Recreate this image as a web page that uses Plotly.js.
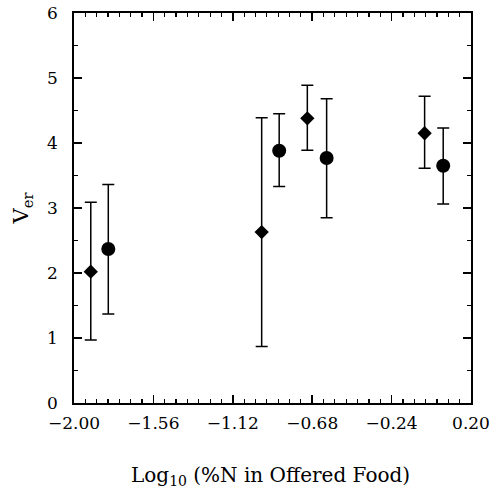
<!DOCTYPE html>
<html>
<head>
<meta charset="utf-8">
<script src="https://cdn.plot.ly/plotly-3.0.1.min.js"></script>
<style>html,body{margin:0;padding:0;background:#fff;}</style>
</head>
<body>
<div id="chart" style="width:490px;height:488px;"></div>
<script>
// Diamonds series
const diamondX = [-1.907, -0.96, -0.707, -0.057];
const diamondY = [2.02, 2.63, 4.38, 4.15];
const diamondErrPlus = [1.07, 1.76, 0.51, 0.57];
const diamondErrMinus = [1.05, 1.76, 0.49, 0.54];
// Circles series
const circleX = [-1.81, -0.863, -0.60, 0.046];
const circleY = [2.37, 3.88, 3.77, 3.65];
const circleErrPlus = [0.99, 0.57, 0.91, 0.58];
const circleErrMinus = [1.00, 0.55, 0.92, 0.59];
// Tick labels
const xTickVals = [-2.00, -1.56, -1.12, -0.68, -0.24, 0.20];
const xTickText = ['\u22122.00', '\u22121.56', '\u22121.12', '\u22120.68', '\u22120.24', '0.20'];
const yTickVals = [0, 1, 2, 3, 4, 5, 6];
const xTitle = 'Log<sub>10</sub> (%N in Offered Food)';
const yTitle = 'V<sub>er</sub>';

const font = {family: 'DejaVu Serif', size: 17, color: '#000'};

const errStyle = (plus, minus) => ({
  type: 'data', symmetric: false, array: plus, arrayminus: minus,
  color: '#000', thickness: 1.5, width: 6
});

const traces = [
  {
    x: diamondX, y: diamondY, type: 'scatter', mode: 'markers',
    marker: {symbol: 'diamond', size: 11, color: '#000'},
    error_y: errStyle(diamondErrPlus, diamondErrMinus),
    showlegend: false
  },
  {
    x: circleX, y: circleY, type: 'scatter', mode: 'markers',
    marker: {symbol: 'circle', size: 14, color: '#000'},
    error_y: errStyle(circleErrPlus, circleErrMinus),
    showlegend: false
  }
];

const layout = {
  width: 490, height: 488,
  margin: {l: 74, r: 19, t: 13, b: 85},
  paper_bgcolor: '#fff', plot_bgcolor: '#fff',
  font: font,
  xaxis: {
    range: [-2.0, 0.2], tickmode: 'array', tickvals: xTickVals, ticktext: xTickText,
    ticks: 'inside', ticklen: 8, tickwidth: 1.5, tickcolor: '#000',
    showline: true, linecolor: '#000', linewidth: 1.8, mirror: 'ticks',
    showgrid: false, zeroline: false, automargin: false,
    ticklabelstandoff: 4,
    minor: {dtick: 0.44 / 7, tick0: -2, ticks: 'inside', ticklen: 4, tickwidth: 1.2, tickcolor: '#000', showgrid: false}
  },
  yaxis: {
    range: [0, 6], tickmode: 'array', tickvals: yTickVals,
    ticks: 'inside', ticklen: 8, tickwidth: 1.5, tickcolor: '#000',
    showline: true, linecolor: '#000', linewidth: 1.8, mirror: 'ticks',
    showgrid: false, zeroline: false, automargin: false,
    ticklabelstandoff: 11,
    minor: {dtick: 0.5, tick0: 0, ticks: 'inside', ticklen: 4, tickwidth: 1.2, tickcolor: '#000', showgrid: false}
  },
  annotations: [
    {
      text: xTitle, xref: 'paper', yref: 'paper', x: 0.495, y: -0.148,
      xanchor: 'center', yanchor: 'top', showarrow: false,
      font: {family: 'DejaVu Serif', size: 20, color: '#000'}
    },
    {
      text: yTitle, xref: 'paper', yref: 'paper', x: -0.13, y: 0.5,
      xanchor: 'center', yanchor: 'middle', showarrow: false, textangle: -90,
      font: {family: 'DejaVu Serif', size: 21, color: '#000'}
    }
  ]
};

Plotly.newPlot('chart', traces, layout, {displayModeBar: false, staticPlot: true});
</script>
</body>
</html>
